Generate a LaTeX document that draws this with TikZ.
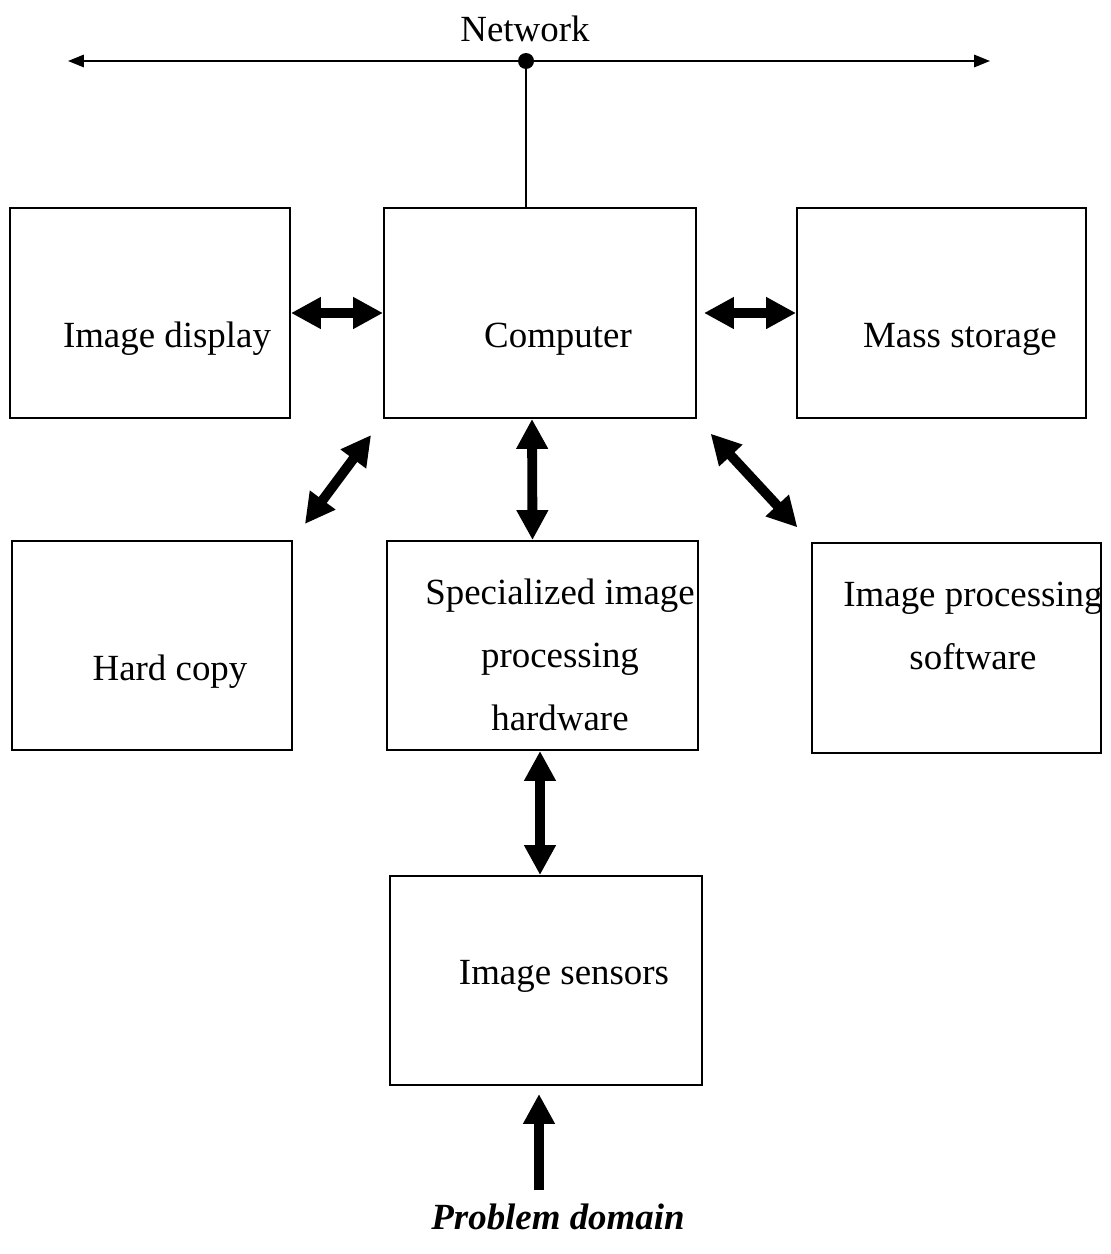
\documentclass[tikz,border=0pt]{standalone}
\usepackage{fontspec}
\setmainfont{Liberation Serif}
\usetikzlibrary{arrows.meta,positioning,fit}

\begin{document}
\begin{tikzpicture}[
  x=0.02cm, y=-0.02cm,
  box/.style={draw, line width=1.1pt, inner sep=0pt},
  txt/.style={font=\fontsize{21pt}{36pt}\selectfont, align=center, inner sep=0pt},
  dbl/.style={{Triangle[length=17pt,width=17pt]}-{Triangle[length=17pt,width=17pt]}, line width=5.6pt},
  sgl/.style={-{Triangle[length=17pt,width=17pt]}, line width=5.6pt},
  net/.style={{Triangle[length=9pt,width=7pt]}-{Triangle[length=9pt,width=7pt]}, line width=1.1pt}
]
\useasboundingbox (0,0) rectangle (1110,1254);

% Network
\node[txt] (nettxt) at (525,29) {Network};
\coordinate (netL) at (68,61);
\coordinate (netR) at (990,61);
\draw[net] (netL) -- (netR);
\node[circle, fill, inner sep=0pt, minimum size=0.32cm] (hub) at (526,61) {};

% Top row
\node[box, fit={(10,208) (290,418)}] (disp) {};
\node[box, fit={(384,208) (696,418)}] (comp) {};
\node[box, fit={(797,208) (1086,418)}] (mass) {};
\node[txt] at (167,339) {Image display};
\node[txt] at (558,339) {Computer};
\node[txt] at (960,339) {Mass storage};

% Middle row
\node[box, fit={(12,541) (292,750)}] (hard) {};
\node[box, fit={(387,541) (698,750)}] (spec) {};
\node[box, fit={(812,543) (1101,753)}] (soft) {};
\node[txt] at (170,672) {Hard copy};
\node[txt] at (560,655) {Specialized image\\processing\\hardware};
\node[txt] at (973,626) {Image processing\\software};

% Bottom
\node[box, fit={(390,876) (702,1085)}] (sens) {};
\node[txt] at (564,976) {Image sensors};
\node[txt, font=\fontsize{21pt}{36pt}\selectfont\bfseries\itshape] (prob) at (558,1217) {Problem domain};
\coordinate (pd) at (539,1190);

% Connections
\draw[line width=1.1pt] (hub) -- (hub |- comp.north);
\draw[dbl] (disp) -- (comp);
\draw[dbl, shorten <=0.14cm] (comp) -- (mass);
\draw[dbl, shorten <=0.4cm, shorten >=0.4cm] (hard.north east) -- (comp.south west);
\draw[dbl, shorten <=0.4cm, shorten >=0.4cm] (comp.south east) -- (soft.north west);
\draw[dbl] ([xshift=-0.16cm]comp.south) -- ([xshift=-0.2cm]spec.north);
\draw[dbl] ([xshift=-0.05cm]spec.south) -- ([xshift=-0.12cm]sens.north);
\draw[sgl, shorten >=0.16cm] (pd) -- (pd |- sens.south);
\end{tikzpicture}
\end{document}
